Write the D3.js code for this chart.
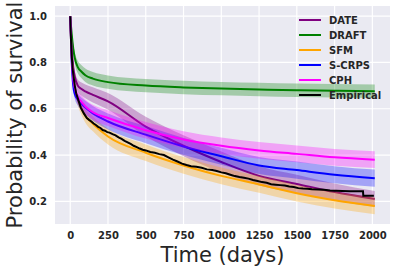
<!DOCTYPE html>
<html>
<head>
<meta charset="utf-8">
<script src="https://cdn.jsdelivr.net/npm/d3@7"></script>
<style>
  body { margin: 0; background: #fff; }
  svg { display: block; font-family: "DejaVu Sans", sans-serif; }
</style>
</head>
<body>
<svg id="chart" width="397" height="271"></svg>
<script>
// time points (days) for the model curves
const times = [0, 10, 20, 30, 50, 75, 100, 150, 250, 500, 750, 1000, 1250, 1500, 1750, 2016];

const dateMid   = [1, 0.86, 0.78, 0.74, 0.70, 0.685, 0.675, 0.66, 0.632, 0.523, 0.44, 0.37, 0.31, 0.275, 0.24, 0.21];
const draftMid  = [1, 0.92, 0.86, 0.82, 0.78, 0.76, 0.745, 0.73, 0.715, 0.70, 0.692, 0.687, 0.683, 0.68, 0.678, 0.676];
const sfmMid    = [1, 0.82, 0.74, 0.69, 0.64, 0.60, 0.57, 0.535, 0.48, 0.41, 0.355, 0.31, 0.273, 0.235, 0.205, 0.18];
const scrpsMid  = [1, 0.80, 0.70, 0.665, 0.64, 0.62, 0.605, 0.58, 0.545, 0.488, 0.437, 0.395, 0.355, 0.335, 0.315, 0.30];
const cphMid    = [1, 0.82, 0.73, 0.69, 0.65, 0.63, 0.61, 0.585, 0.56, 0.507, 0.467, 0.44, 0.42, 0.405, 0.39, 0.38];

// half widths of the confidence bands
const dateBand  = [0, 0.012, 0.018, 0.022, 0.026, 0.028, 0.03, 0.033, 0.036, 0.042, 0.045, 0.045, 0.042, 0.04, 0.037, 0.035];
const draftBand = [0, 0.015, 0.02, 0.024, 0.027, 0.028, 0.029, 0.029, 0.029, 0.029, 0.029, 0.029, 0.029, 0.029, 0.029, 0.029];
const sfmBand   = [0, 0.012, 0.018, 0.022, 0.026, 0.028, 0.03, 0.032, 0.034, 0.036, 0.036, 0.036, 0.036, 0.036, 0.036, 0.036];
const scrpsBand = [0, 0.012, 0.018, 0.022, 0.026, 0.028, 0.03, 0.032, 0.035, 0.037, 0.037, 0.037, 0.037, 0.037, 0.037, 0.037];
const cphBand   = [0, 0.012, 0.018, 0.022, 0.026, 0.028, 0.03, 0.032, 0.034, 0.036, 0.036, 0.036, 0.036, 0.036, 0.036, 0.036];

// empirical survival curve, read point by point
const empTimes = [0, 5, 10, 15, 20, 30, 40, 55, 70, 90, 110, 125, 140, 155, 170, 185, 200, 215, 230, 245, 260, 280, 300, 320, 340, 360, 380, 400, 420, 440, 460, 480, 500, 530, 560, 590, 620, 650, 680, 710, 740, 770, 800, 835, 870, 905, 940, 970, 1000, 1030, 1060, 1090, 1120, 1150, 1180, 1210, 1240, 1270, 1300, 1330, 1360, 1390, 1420, 1450, 1480, 1510, 1540, 1570, 1600, 1640, 1680, 1720, 1760, 1800, 1850, 1900, 1938, 1940, 2010];
const empVals  = [1, 0.90, 0.83, 0.78, 0.75, 0.70, 0.665, 0.635, 0.605, 0.58, 0.56, 0.552, 0.545, 0.536, 0.53, 0.522, 0.517, 0.508, 0.505, 0.499, 0.497, 0.49, 0.485, 0.476, 0.47, 0.461, 0.455, 0.448, 0.44, 0.434, 0.428, 0.423, 0.42, 0.413, 0.41, 0.404, 0.4, 0.39, 0.38, 0.372, 0.363, 0.357, 0.352, 0.349, 0.345, 0.338, 0.335, 0.331, 0.325, 0.321, 0.315, 0.309, 0.305, 0.302, 0.298, 0.292, 0.288, 0.283, 0.28, 0.274, 0.272, 0.27, 0.268, 0.264, 0.262, 0.257, 0.255, 0.254, 0.252, 0.251, 0.25, 0.247, 0.246, 0.245, 0.244, 0.244, 0.244, 0.224, 0.224];

const seriesNames  = ["DATE", "DRAFT", "SFM", "S-CRPS", "CPH", "Empirical"];
const seriesColors = ["purple", "green", "orange", "blue", "magenta", "black"];

const xTicks = [0, 250, 500, 750, 1000, 1250, 1500, 1750, 2000];
const yTicks = [0.2, 0.4, 0.6, 0.8, 1.0];

const margin = {top: 6, right: 7, bottom: 47, left: 55};
const svg = d3.select("#chart");
const width = 397 - margin.left - margin.right;
const height = 271 - margin.top - margin.bottom;

const x = d3.scaleLinear().domain([-100.8, 2116.8]).range([0, width]);
const y = d3.scaleLinear().domain([0.102, 1.044]).range([height, 0]);

const g = svg.append("g").attr("transform", `translate(${margin.left},${margin.top})`);

g.append("rect")
    .attr("width", width)
    .attr("height", height)
    .attr("fill", "#EAEAF2");

// grid
g.append("g")
    .selectAll("line")
    .data(xTicks)
    .enter()
    .append("line")
    .attr("x1", d => x(d)).attr("x2", d => x(d))
    .attr("y1", 0).attr("y2", height)
    .attr("stroke", "#fff")
    .attr("stroke-width", 1.2);

g.append("g")
    .selectAll("line")
    .data(yTicks)
    .enter()
    .append("line")
    .attr("y1", d => y(d)).attr("y2", d => y(d))
    .attr("x1", 0).attr("x2", width)
    .attr("stroke", "#fff")
    .attr("stroke-width", 1.2);

// axes (labels only, no tick marks)
const xAxis = g.append("g")
    .attr("transform", `translate(0,${height})`)
    .call(d3.axisBottom(x).tickValues(xTicks).tickSize(0).tickPadding(8).tickFormat(d3.format("d")));
const yAxis = g.append("g")
    .call(d3.axisLeft(y).tickValues(yTicks).tickSize(0).tickPadding(8).tickFormat(d3.format(".1f")));

[xAxis, yAxis].forEach(a => {
    a.select(".domain").remove();
    a.selectAll("text")
        .attr("fill", "#262626")
        .style("font-family", "DejaVu Sans")
        .style("font-weight", "bold")
        .style("font-size", "10px");
});

// bands + lines
const mids  = [dateMid, draftMid, sfmMid, scrpsMid, cphMid];
const bands = [dateBand, draftBand, sfmBand, scrpsBand, cphBand];

const area = d3.area()
    .x(d => x(d.t))
    .y0(d => y(d.v - d.h))
    .y1(d => y(d.v + d.h))
    .curve(d3.curveMonotoneX);

const line = d3.line()
    .x(d => x(d.t))
    .y(d => y(d.v))
    .curve(d3.curveMonotoneX);

const plot = g.append("g");

mids.forEach((m, i) => {
    const pts = times.map((t, j) => ({t: t, v: m[j], h: bands[i][j]}));
    plot.append("path")
        .attr("d", area(pts))
        .attr("fill", seriesColors[i])
        .attr("fill-opacity", 0.3);
    plot.append("path")
        .attr("d", line(pts))
        .attr("fill", "none")
        .attr("stroke", seriesColors[i])
        .attr("stroke-width", 2);
});

const empPts = empTimes.map((t, j) => ({t: t, v: empVals[j]}));
plot.append("path")
    .attr("d", d3.line().x(d => x(d.t)).y(d => y(d.v))(empPts))
    .attr("fill", "none")
    .attr("stroke", "black")
    .attr("stroke-width", 2);

// legend
const legend = g.append("g").attr("transform", `translate(${299 - margin.left},${20 - margin.top})`);
const items = legend.selectAll("g")
    .data(seriesNames)
    .enter()
    .append("g")
    .attr("transform", (d, i) => `translate(0,${i * 15})`);

items.append("line")
    .attr("x1", 0).attr("x2", 22)
    .attr("stroke", (d, i) => seriesColors[i])
    .attr("stroke-width", 2);

items.append("text")
    .attr("x", 30)
    .attr("dy", "0.36em")
    .attr("fill", "#262626")
    .style("font-weight", "bold")
    .style("font-size", "10px")
    .text(d => d);

// axis titles
svg.append("text")
    .attr("x", margin.left + width / 2)
    .attr("y", 262)
    .attr("text-anchor", "middle")
    .attr("fill", "#262626")
    .style("font-size", "21px")
    .text("Time (days)");

svg.append("text")
    .attr("transform", `translate(22,${margin.top + height / 2}) rotate(-90)`)
    .attr("text-anchor", "middle")
    .attr("fill", "#262626")
    .style("font-size", "21px")
    .text("Probability of survival");
</script>
</body>
</html>
